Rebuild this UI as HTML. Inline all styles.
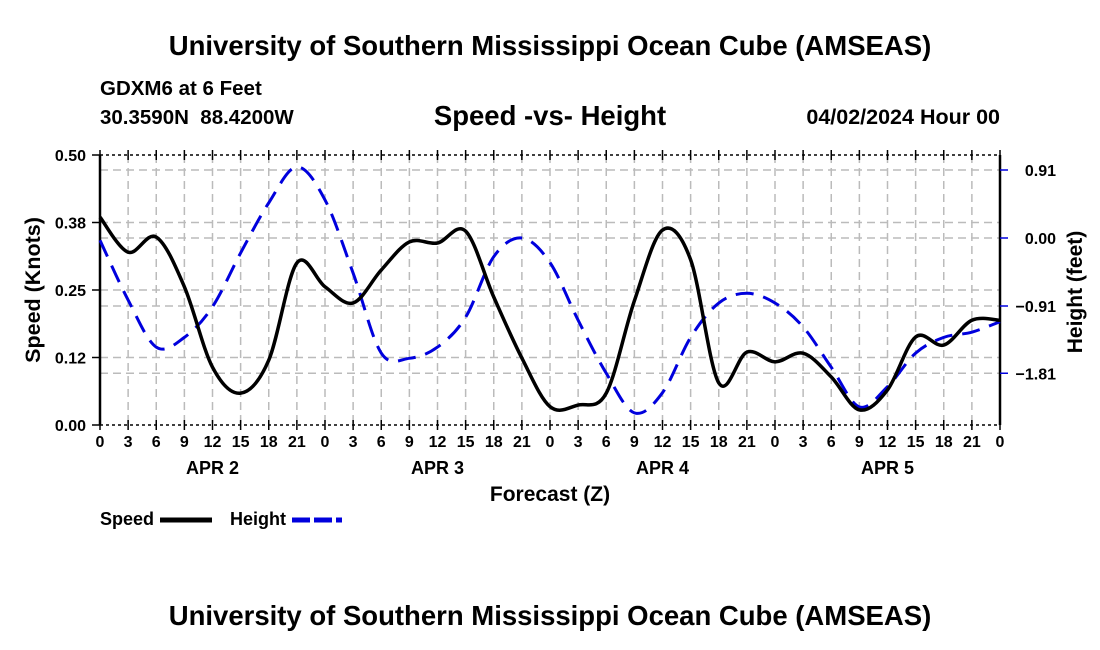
<!DOCTYPE html>
<html><head><meta charset="utf-8"><style>
body{margin:0;background:#fff;}
svg{display:block;font-family:"Liberation Sans",sans-serif;font-weight:bold;}
</style></head><body>
<svg id="chart" width="1100" height="650" viewBox="0 0 1100 650">
<text x="550" y="55" font-size="27.5" text-anchor="middle">University of Southern Mississippi Ocean Cube (AMSEAS)</text>
<text x="100" y="95" font-size="20.5">GDXM6 at 6 Feet</text>
<text x="100" y="124" font-size="20.5" xml:space="preserve">30.3590N  88.4200W</text>
<text x="550" y="125" font-size="27.5" text-anchor="middle">Speed -vs- Height</text>
<text x="1000" y="124" font-size="21.5" text-anchor="end">04/02/2024 Hour 00</text>
<g id="grid"></g>
<g id="axes"></g>
<path id="heightLine" fill="none" stroke="#0000dd" stroke-width="3" stroke-dasharray="18,10"/>
<path id="speedLine" fill="none" stroke="#000" stroke-width="3.5"/>
<text x="40" y="290" font-size="21.5" text-anchor="middle" transform="rotate(-90 40 290)">Speed (Knots)</text>
<text x="1082" y="292" font-size="21" text-anchor="middle" transform="rotate(-90 1082 292)">Height (feet)</text>
<text x="550" y="501" font-size="21" text-anchor="middle">Forecast (Z)</text>
<g>
<text x="100" y="525" font-size="18">Speed</text>
<line x1="160" y1="520" x2="212" y2="520" stroke="#000" stroke-width="5"/>
<text x="230" y="525" font-size="18">Height</text>
<line x1="292" y1="520" x2="342" y2="520" stroke="#0000dd" stroke-width="5" stroke-dasharray="18,4"/>
</g>
<text x="550" y="625" font-size="27.5" text-anchor="middle">University of Southern Mississippi Ocean Cube (AMSEAS)</text>
</svg>
<script>
const hoursLabels=["0","3","6","9","12","15","18","21"];
const dayLabels=["APR 2","APR 3","APR 4","APR 5"];
const speedTicks=[0,0.125,0.25,0.375,0.5];
const speedTickLabels=["0.00","0.12","0.25","0.38","0.50"];
const heightTicks=[0.91,0,-0.91,-1.81];
const heightTickLabels=["0.91","0.00","\u22120.91","\u22121.81"];
const speed=[0.385,0.32,0.348,0.256,0.107,0.059,0.12,0.30,0.256,0.226,0.287,0.339,0.337,0.359,0.237,0.124,0.034,0.037,0.059,0.23,0.361,0.306,0.078,0.135,0.117,0.133,0.089,0.028,0.065,0.163,0.148,0.194,0.194];
const height=[-0.03,-0.83,-1.46,-1.33,-0.92,-0.2,0.47,0.95,0.51,-0.47,-1.54,-1.61,-1.46,-1.06,-0.25,0.0,-0.33,-1.1,-1.81,-2.34,-2.07,-1.33,-0.87,-0.74,-0.87,-1.19,-1.73,-2.26,-1.99,-1.54,-1.33,-1.26,-1.12];
const X0=100,X1=1000,Y0=425,Y1=155;
const xs=i=>X0+(X1-X0)*i/32;
const ys=v=>Y0-(Y0-Y1)*v/0.5;
const yh=h=>238-h*68/0.91;
const NS="http://www.w3.org/2000/svg";
function mk(tag,attrs,parent,txt){const e=document.createElementNS(NS,tag);for(const k in attrs)e.setAttribute(k,attrs[k]);if(txt!==undefined)e.textContent=txt;parent.appendChild(e);return e;}
const grid=document.getElementById('grid'),axes=document.getElementById('axes');
for(let i=1;i<32;i++){const l=mk('line',{x1:xs(i),x2:xs(i),y1:Y1,y2:Y0,stroke:'#bbb','stroke-width':1.5,'stroke-dasharray':'8,5'},grid);

}
speedTicks.slice(1,4).forEach(v=>{const l=mk('line',{x1:X0,x2:X1,y1:ys(v),y2:ys(v),stroke:'#bbb','stroke-width':1.5,'stroke-dasharray':'8,5'},grid);

});
heightTicks.forEach(h=>{const l=mk('line',{x1:X0,x2:X1,y1:yh(h),y2:yh(h),stroke:'#bbb','stroke-width':1.5,'stroke-dasharray':'8,5'},grid);

});
[[X0,Y1,X1,Y1,1.5],[X0,Y0,X1,Y0,1.5],[X0,Y1,X0,Y0,2.5],[X1,Y1,X1,Y0,2.5]].forEach(a=>{const l=mk('line',{x1:a[0],y1:a[1],x2:a[2],y2:a[3],stroke:'#000','stroke-width':a[4],'stroke-dasharray':a[4]<2?'3,3':'none'},axes);

});
for(let i=0;i<=32;i++){
 [Y1,Y0].forEach(y=>{const t=mk('line',{x1:xs(i),x2:xs(i),y1:y-5,y2:y+5,stroke:'#000','stroke-width':1.5},axes);
 
 });
 const lab=mk('text',{x:xs(i),y:Y0+22,'font-size':16,'text-anchor':'middle'},axes,hoursLabels[i%8]);
 
 
}
dayLabels.forEach((d,k)=>{const t=mk('text',{x:xs(k*8+4),y:Y0+49,'font-size':18,'text-anchor':'middle'},axes,d);

});
speedTicks.forEach((v,k)=>{const t=mk('text',{x:X0-14,y:ys(v)+6,'font-size':16,'text-anchor':'end'},axes,speedTickLabels[k]);


const l=mk('line',{x1:X0-8,x2:X0,y1:ys(v),y2:ys(v),stroke:'#000','stroke-width':1.5},axes);

});
heightTicks.forEach((h,k)=>{const t=mk('text',{x:X1+56,y:yh(h)+6,'font-size':16,'text-anchor':'end'},axes,heightTickLabels[k]);


const l=mk('line',{x1:X1,x2:X1+8,y1:yh(h),y2:yh(h),stroke:'#0000dd','stroke-width':1.5},axes);

});
function smooth(pts){let d='M'+pts[0][0]+','+pts[0][1];for(let i=0;i<pts.length-1;i++){const p0=pts[Math.max(0,i-1)],p1=pts[i],p2=pts[i+1],p3=pts[Math.min(pts.length-1,i+2)];
d+=' C'+(p1[0]+(p2[0]-p0[0])/6)+','+(p1[1]+(p2[1]-p0[1])/6)+' '+(p2[0]-(p3[0]-p1[0])/6)+','+(p2[1]-(p3[1]-p1[1])/6)+' '+p2[0]+','+p2[1];}return d;}
document.getElementById('speedLine').setAttribute('d',smooth(speed.map((v,i)=>[xs(i),ys(v)])));
document.getElementById('heightLine').setAttribute('d',smooth(height.map((h,i)=>[xs(i),yh(h)])));
</script>
</body></html>
